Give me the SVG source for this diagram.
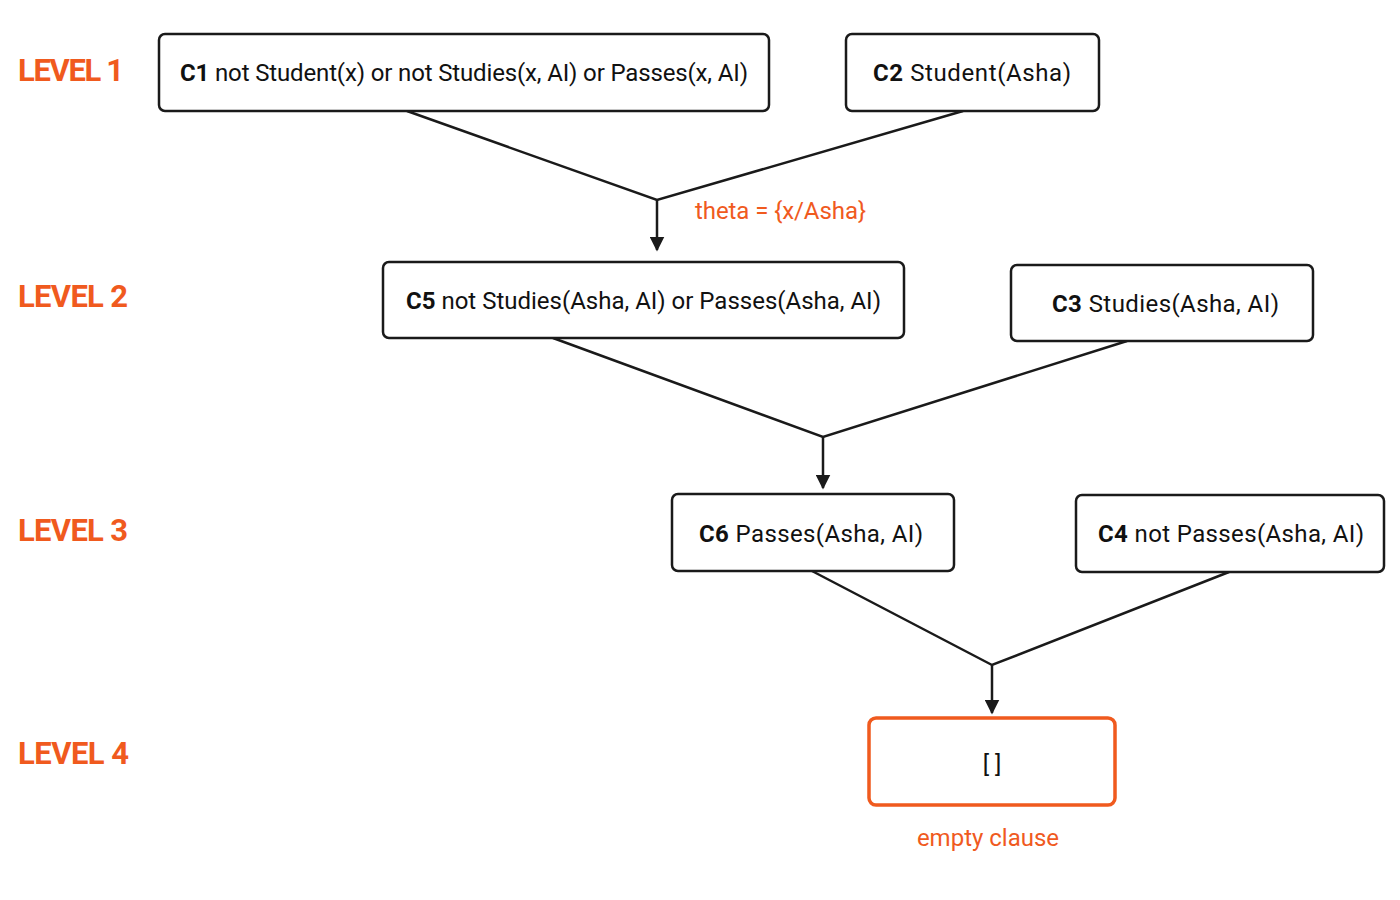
<svg xmlns="http://www.w3.org/2000/svg" width="1400" height="900" viewBox="0 0 1400 900">
<style>
.box{fill:#fff;stroke:#1a1a1a;stroke-width:2.5}
.empty{fill:#fff;stroke:#f05a1e;stroke-width:3.5}
.t{font-family:Roboto,"Liberation Sans",sans-serif;font-size:24px;fill:#111}
.b{font-weight:bold}
.lv{font-family:Roboto,"Liberation Sans",sans-serif;font-size:31px;font-weight:bold;fill:#f05a1e}
.o{font-family:Roboto,"Liberation Sans",sans-serif;font-size:24px;fill:#f05a1e}
.ln{stroke:#1a1a1a;stroke-width:2.5;fill:none}
</style>
<defs><marker id="ah" viewBox="0 0 10 10" refX="9" refY="5" markerWidth="6" markerHeight="6" orient="auto"><path d="M0,0L10,5L0,10z" fill="#1a1a1a"/></marker></defs>
<rect width="1400" height="900" fill="#fff"/>
<g id="levels">
<text class="lv" x="18" y="81" textLength="106">LEVEL 1</text>
<text class="lv" x="18" y="307" textLength="110">LEVEL 2</text>
<text class="lv" x="18" y="541" textLength="110">LEVEL 3</text>
<text class="lv" x="18" y="764" textLength="111">LEVEL 4</text>
</g>
<g id="connectors">
<path class="ln" d="M407,111L657,200L963,111"/>
<path class="ln" d="M657,200V250" marker-end="url(#ah)"/>
<path class="ln" d="M553,338L823,437L1127,341"/>
<path class="ln" d="M823,437V488" marker-end="url(#ah)"/>
<path class="ln" d="M812,571L992,665L1229,572"/>
<path class="ln" d="M992,665V713" marker-end="url(#ah)"/>
<text class="o" x="695" y="219" textLength="171">theta = {x/Asha}</text>
</g>
<g id="C1"><rect class="box" x="159" y="34" width="610" height="77" rx="6"/>
<text class="t" x="180" y="81" textLength="568"><tspan class="b">C1</tspan>  not Student(x) or not Studies(x, AI) or Passes(x, AI)</text></g>
<g id="C2"><rect class="box" x="846" y="34" width="253" height="77" rx="6"/>
<text class="t" x="873" y="81" textLength="198"><tspan class="b">C2</tspan>  Student(Asha)</text></g>
<g id="C5"><rect class="box" x="383" y="262" width="521" height="76" rx="6"/>
<text class="t" x="406" y="309" textLength="475"><tspan class="b">C5</tspan>  not Studies(Asha, AI) or Passes(Asha, AI)</text></g>
<g id="C3"><rect class="box" x="1011" y="265" width="302" height="76" rx="6"/>
<text class="t" x="1052" y="312" textLength="227"><tspan class="b">C3</tspan>  Studies(Asha, AI)</text></g>
<g id="C6"><rect class="box" x="672" y="494" width="282" height="77" rx="6"/>
<text class="t" x="699" y="542" textLength="224"><tspan class="b">C6</tspan>   Passes(Asha, AI)</text></g>
<g id="C4"><rect class="box" x="1076" y="495" width="308" height="77" rx="6"/>
<text class="t" x="1098" y="542" textLength="266"><tspan class="b">C4</tspan>   not Passes(Asha, AI)</text></g>
<g id="empty"><rect class="empty" x="869" y="718" width="246" height="87" rx="7"/>
<text class="t" x="992" y="772" text-anchor="middle">[ ]</text>
<text class="o" x="988" y="846" text-anchor="middle">empty clause</text></g>
</svg>
